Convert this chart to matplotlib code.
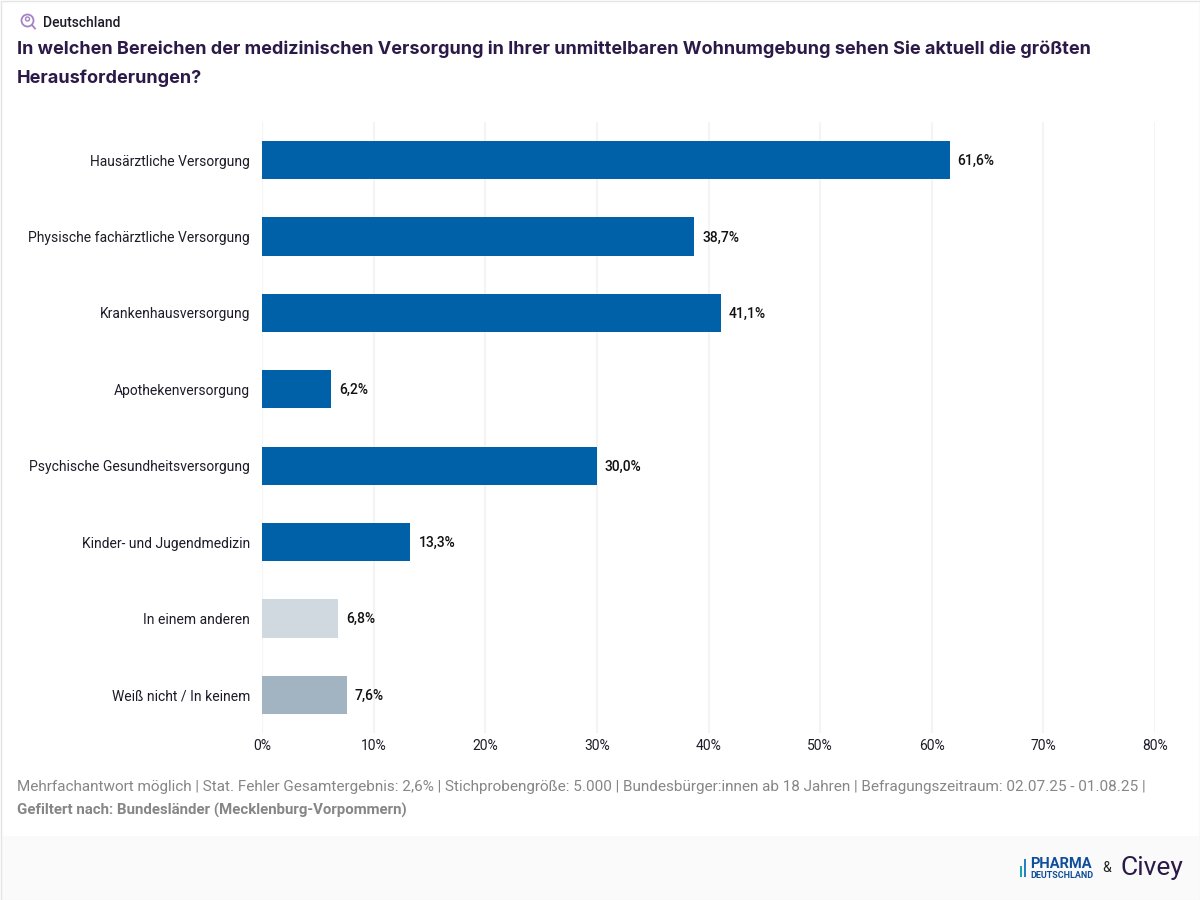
import matplotlib

matplotlib.use("Agg")
import matplotlib.pyplot as plt
from matplotlib.patches import Circle, Rectangle

plt.rcParams["font.family"] = ["Roboto", "DejaVu Sans"]

LABELS = [
    "Hausärztliche Versorgung",
    "Physische fachärztliche Versorgung",
    "Krankenhausversorgung",
    "Apothekenversorgung",
    "Psychische Gesundheitsversorgung",
    "Kinder- und Jugendmedizin",
    "In einem anderen",
    "Weiß nicht / In keinem",
]
VALUES = [61.6, 38.7, 41.1, 6.2, 30.0, 13.3, 6.8, 7.6]
COLORS = ["#0060a8"] * 6 + ["#d0d8e0", "#a2b3c1"]
XTICKS = [0, 10, 20, 30, 40, 50, 60, 70, 80]

W, H = 1200, 900
DARK = "#2b1a47"
GREY = "#868686"
TITLE_FONT = ["Inter", "DejaVu Sans"]

fig = plt.figure(figsize=(12, 9), dpi=100)

# Hintergrund, Rahmen und Fussleiste in Pixelkoordinaten
bg = fig.add_axes([0, 0, 1, 1])
bg.set_xlim(0, W); bg.set_ylim(H, 0); bg.axis("off")
bg.add_patch(Rectangle((1, 836), W - 2, 63, fc="#fafafa", ec="none"))
bg.add_patch(Rectangle((0.5, 0.5), W - 1, H - 1, fc="none", ec="#e4e4e4", lw=1))

# Lupe mit Person
bg.add_patch(Circle((27.5, 20.5), 6, fc="none", ec="#a582c8", lw=1.3))
bg.add_patch(Circle((27.5, 19), 2, fc="none", ec="#a582c8", lw=1))
bg.plot([32, 35], [25, 28.5], color="#a582c8", lw=1.3)

bg.text(43, 23, "Deutschland", fontsize=10, fontweight="medium", color="#1c1c28", va="center")
bg.text(17, 49, "In welchen Bereichen der medizinischen Versorgung in Ihrer unmittelbaren "
        "Wohnumgebung sehen Sie aktuell die größten", fontsize=13.02, fontweight="bold",
        family=TITLE_FONT, color=DARK, va="center")
bg.text(17, 78, "Herausforderungen?", fontsize=13.02, fontweight="bold",
        family=TITLE_FONT, color=DARK, va="center")

bg.text(17, 787, "Mehrfachantwort möglich | Stat. Fehler Gesamtergebnis: 2,6% | Stichprobengröße: 5.000 | "
        "Bundesbürger:innen ab 18 Jahren | Befragungszeitraum: 02.07.25 - 01.08.25 |",
        fontsize=11, color=GREY, va="center")
bg.text(17, 810, "Gefiltert nach: Bundesländer (Mecklenburg-Vorpommern)", fontsize=10.8,
        fontweight="bold", color=GREY, va="center")

# Logos
bg.add_patch(Rectangle((1020, 866), 2, 11, fc="#1aa6b0", ec="none"))
bg.add_patch(Rectangle((1023.5, 859), 2, 18, fc="#2b7fc0", ec="none"))
bg.text(1030, 864, "PHARMA", fontsize=10.5, fontweight="bold", color="#0f4f9a", va="center")
bg.text(1030, 875, "DEUTSCHLAND", fontsize=6.5, fontweight="bold", color="#0f4f9a", va="center")
bg.text(1106.5, 868, "&", fontsize=10, color="#222222", ha="center", va="center")
bg.text(1120, 868, "Civey", fontsize=19, color=DARK, va="center")

# Diagramm
ax = fig.add_axes([262 / W, 1 - 733 / H, (1155 - 262) / W, (733 - 122) / H])
ax.patch.set_alpha(0)
y = list(range(len(VALUES)))
ax.barh(y, VALUES, height=0.5, color=COLORS, zorder=3)
ax.set_xlim(0, 80)
ax.set_ylim(len(VALUES) - 0.5, -0.5)
ax.set_yticks(y, LABELS)
ax.set_xticks(XTICKS, [f"{t}%" for t in XTICKS])
ax.tick_params(axis="both", length=0, labelsize=10, labelcolor="#1c1c28")
ax.tick_params(axis="y", pad=8.6)
ax.tick_params(axis="x", pad=4.6)
ax.grid(axis="x", color="#f4f4f4", lw=1.5, zorder=0)
ax.set_axisbelow(True)
for s in ax.spines.values():
    s.set_visible(False)
for yi, v in zip(y, VALUES):
    ax.annotate(f"{v:.1f}%".replace(".", ","), (v, yi), xytext=(5.8, -0.7), textcoords="offset points",
                fontsize=10, fontweight="medium", color="#111111", va="center")

fig.savefig("out.png", dpi=100)
